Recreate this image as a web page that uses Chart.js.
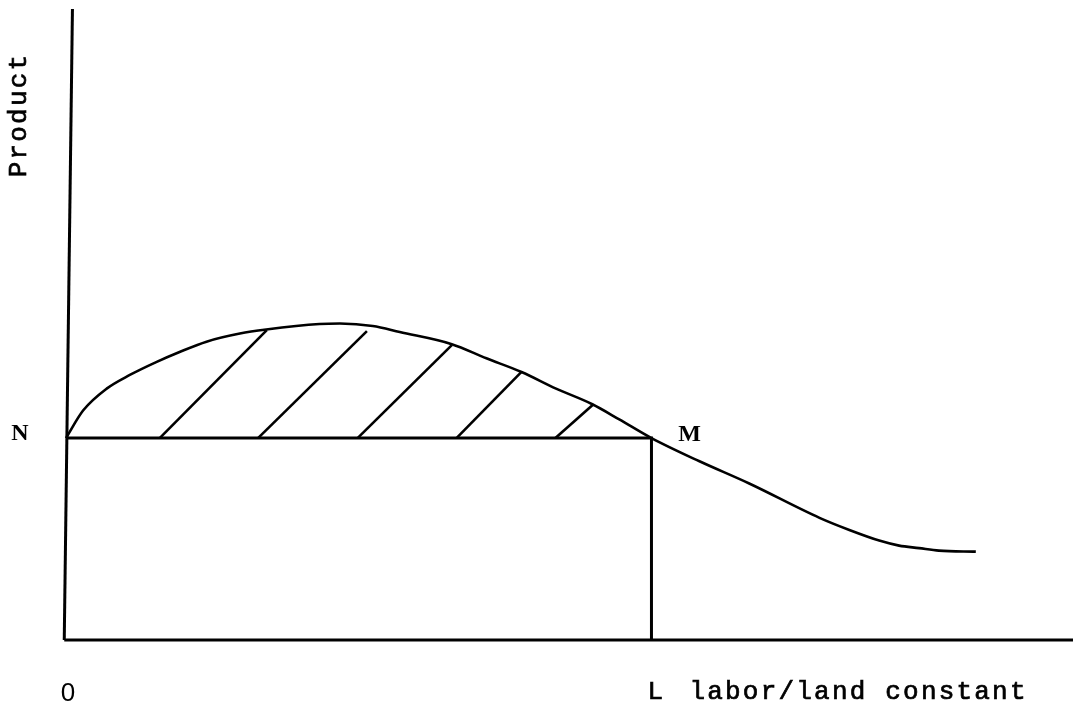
<!DOCTYPE html>
<html>
<head>
<meta charset="utf-8">
<script src="https://cdn.jsdelivr.net/npm/chart.js@4/dist/chart.umd.min.js"></script>
<style>
  html, body { margin: 0; padding: 0; background: #ffffff; }
  #wrap { width: 1073px; height: 711px; }
</style>
</head>
<body>
<div id="wrap"><canvas id="c" width="1073" height="711"></canvas></div>
<script>
// ---- data (units: O..L = 0..10 on x, O..N = 0..4 on y) ----
const curveX = [0, 0.295, 0.695, 1.09, 1.55, 1.95, 2.40, 2.97, 3.42, 4.33, 4.68, 5.24, 5.70, 6.59, 7.18, 7.78, 8.37, 8.99, 9.45, 10.0,
                10.82, 11.67, 12.87, 13.38, 13.89, 14.23, 14.57, 14.91, 15.54];
const curveY = [4.0, 4.55, 4.98, 5.25, 5.51, 5.71, 5.91, 6.07, 6.15, 6.26, 6.27, 6.22, 6.10, 5.86, 5.58, 5.31, 4.98, 4.67, 4.37, 4.0,
                3.54, 3.10, 2.42, 2.18, 1.97, 1.87, 1.82, 1.77, 1.75];

const levelN = 4.0;      // height of N / M
const pointL = 10.0;     // position of L
const xMax = 17.2;
const yMax = 12.5;

// hatch segments: start x on the N line, end point on the curve
const hatchStartX = [1.60, 3.28, 4.98, 6.67, 8.36];
const hatchEndX   = [3.43, 5.14, 6.59, 7.78, 9.01];
const hatchEndY   = [6.14, 6.12, 5.84, 5.31, 4.67];

const yAxisTopX = 0.11;     // the drawn vertical axis leans slightly
const yAxisBottomX = -0.03;

const labelN = 'N', labelM = 'M', labelO = '0', labelL = 'L';
const xTitle = 'labor/land constant';
const yTitle = 'Product';

// ---- build datasets ----
const black = '#000000';
function seg(points, width) {
  return { data: points, borderColor: black, borderWidth: width, pointRadius: 0,
           showLine: true, fill: false, tension: 0, clip: false };
}
const datasets = [];
// axes
datasets.push(seg([{x: yAxisBottomX, y: 0}, {x: yAxisTopX, y: yMax}], 3));
datasets.push(seg([{x: yAxisBottomX, y: 0}, {x: xMax, y: 0}], 3));
// rectangle O-N-M-L
datasets.push(seg([{x: 0, y: levelN}, {x: pointL, y: levelN}, {x: pointL, y: 0}], 3));
// curve
const curve = seg(curveX.map((x, i) => ({x, y: curveY[i]})), 2.6);
curve.cubicInterpolationMode = 'monotone';
datasets.push(curve);
// hatches
hatchStartX.forEach((sx, i) => {
  datasets.push(seg([{x: sx, y: levelN}, {x: hatchEndX[i], y: hatchEndY[i]}], 2.6));
});

// ---- text plugin ----
const textPlugin = {
  id: 'texts',
  afterDatasetsDraw(chart) {
    const ctx = chart.ctx;
    const xs = chart.scales.x, ys = chart.scales.y;
    const x0 = xs.getPixelForValue(0), xL = xs.getPixelForValue(pointL);
    const yN = ys.getPixelForValue(levelN), y0 = ys.getPixelForValue(0);
    ctx.save();
    ctx.fillStyle = black;
    // N and M (serif)
    ctx.font = 'bold 24px "Liberation Serif", "DejaVu Serif", serif';
    ctx.textAlign = 'center';
    ctx.textBaseline = 'middle';
    ctx.fillText(labelN, x0 - 46, yN - 4);
    ctx.fillText(labelM, xL + 38, yN - 3);
    // O (sans)
    ctx.font = '26px "Liberation Sans", "DejaVu Sans", sans-serif';
    ctx.fillText(labelO, x0 + 2, y0 + 54);
    // L and axis title (typewriter)
    ctx.font = '26px "Liberation Mono", "DejaVu Sans Mono", monospace';
    ctx.textAlign = 'left';
    ctx.textBaseline = 'alphabetic';
    try { ctx.letterSpacing = '2.2px'; } catch (e) {}
    ctx.lineWidth = 0.7;
    ctx.strokeStyle = black;
    ctx.fillText(labelL, xL - 4, y0 + 59);
    ctx.strokeText(labelL, xL - 4, y0 + 59);
    ctx.fillText(xTitle, xL + 38, y0 + 59);
    ctx.strokeText(xTitle, xL + 38, y0 + 59);
    // y title, rotated
    ctx.translate(x0 - 47, 115);
    ctx.rotate(-Math.PI / 2);
    ctx.textAlign = 'center';
    ctx.textBaseline = 'middle';
    ctx.fillText(yTitle, 0, 0);
    ctx.strokeText(yTitle, 0, 0);
    ctx.restore();
  }
};

new Chart(document.getElementById('c'), {
  type: 'scatter',
  data: { datasets },
  options: {
    responsive: false,
    animation: false,
    devicePixelRatio: 1,
    layout: { padding: { left: 66, right: 0, top: 9, bottom: 71 } },
    plugins: { legend: { display: false }, tooltip: { enabled: false } },
    scales: {
      x: { type: 'linear', min: 0, max: xMax, display: false },
      y: { type: 'linear', min: 0, max: yMax, display: false }
    }
  },
  plugins: [textPlugin]
});
</script>
</body>
</html>
